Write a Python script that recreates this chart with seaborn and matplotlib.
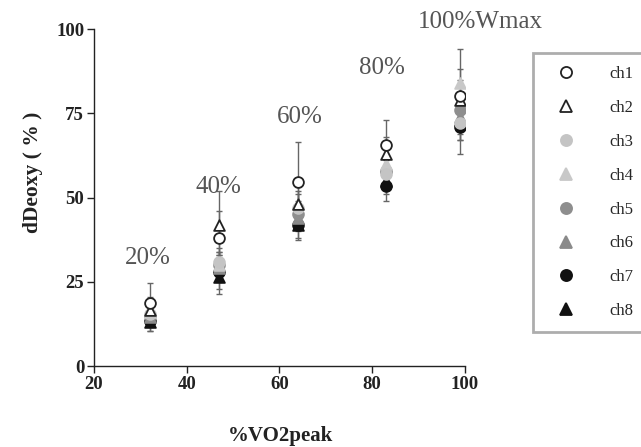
import matplotlib
matplotlib.use("Agg")
import matplotlib.pyplot as plt
import seaborn as sns
import pandas as pd
from matplotlib.lines import Line2D

# ---- data ----
x_vals = [32, 47, 64, 83, 99]
channels = ["ch1", "ch2", "ch3", "ch4", "ch5", "ch6", "ch7", "ch8"]
ch1 = [18.7, 38.0, 54.5, 65.5, 80.0]
ch2 = [16.5, 42.0, 48.0, 63.0, 79.0]
ch3 = [15.5, 31.0, 47.0, 57.0, 72.0]
ch4 = [16.0, 30.0, 48.0, 60.0, 84.0]
ch5 = [15.0, 30.0, 45.0, 58.0, 76.0]
ch6 = [14.5, 29.0, 44.0, 59.0, 74.0]
ch7 = [13.5, 28.0, 42.0, 53.5, 71.0]
ch8 = [13.0, 26.5, 42.0, 55.0, 73.0]
ch1_err = [6.0, 8.0, 12.0, 7.5, 8.0]
ch2_err = [4.0, 10.0, 5.0, 5.0, 6.0]
ch3_err = [3.0, 4.0, 4.0, 4.0, 5.0]
ch4_err = [3.0, 4.0, 4.0, 4.0, 10.0]
ch5_err = [3.0, 4.0, 4.0, 4.0, 5.0]
ch6_err = [3.0, 4.0, 4.0, 4.0, 5.0]
ch7_err = [3.0, 5.0, 4.5, 4.5, 8.0]
ch8_err = [2.5, 5.0, 4.0, 4.0, 6.0]
stage_labels = ["20%", "40%", "60%", "80%", "100%Wmax"]
stage_label_x = [31.6, 46.9, 64.4, 82.0, 103.4]
stage_label_y = [32.0, 53.0, 74.0, 88.4, 102.0]
x_ticks = [20, 40, 60, 80, 100]
y_ticks = [0, 25, 50, 75, 100]

values = [ch1, ch2, ch3, ch4, ch5, ch6, ch7, ch8]
errors = [ch1_err, ch2_err, ch3_err, ch4_err, ch5_err, ch6_err, ch7_err, ch8_err]

styles = {
    "ch1": dict(marker="o", face="white", edge="#222222"),
    "ch2": dict(marker="^", face="white", edge="#222222"),
    "ch3": dict(marker="o", face="#c4c4c4", edge="#c4c4c4"),
    "ch4": dict(marker="^", face="#c8c8c8", edge="#c8c8c8"),
    "ch5": dict(marker="o", face="#8e8e8e", edge="#8e8e8e"),
    "ch6": dict(marker="^", face="#8a8a8a", edge="#8a8a8a"),
    "ch7": dict(marker="o", face="#111111", edge="#111111"),
    "ch8": dict(marker="^", face="#111111", edge="#111111"),
}

rows = []
for ch, v, e in zip(channels, values, errors):
    for xi, yi, ei in zip(x_vals, v, e):
        rows.append(dict(channel=ch, x=xi, y=yi, err=ei))
df = pd.DataFrame(rows)

sns.set_style("white")
plt.rcParams["font.family"] = ["Liberation Serif", "DejaVu Serif"]

fig = plt.figure(figsize=(6.41, 4.47), dpi=100)
ax = fig.add_axes([0.1466, 0.181, 0.5788, 0.754])

# error bars
for ch in channels[::-1]:
    d = df[df.channel == ch]
    ax.errorbar(d.x, d.y, yerr=d.err, fmt="none", ecolor="#666666",
                elinewidth=1.0, capsize=2, capthick=1.0, zorder=1)

# markers (ch1 on top)
for i, ch in enumerate(channels[::-1]):
    d = df[df.channel == ch]
    st = styles[ch]
    sns.scatterplot(data=d, x="x", y="y", ax=ax, marker=st["marker"], s=60,
                    facecolor=st["face"], edgecolor=st["edge"], linewidth=1.3,
                    zorder=2 + i, legend=False)

for lab, lx, ly in zip(stage_labels, stage_label_x, stage_label_y):
    ax.text(lx, ly, lab, ha="center", va="center", fontsize=18,
            color="#555555", clip_on=False)

ax.set_xlim(20, 100)
ax.set_ylim(0, 100)
ax.set_xticks(x_ticks)
ax.set_yticks(y_ticks)
ax.tick_params(axis="both", direction="out", length=5, width=1, labelsize=13.5,
               colors="#222222", bottom=True, left=True, pad=2)
for lbl in ax.get_xticklabels() + ax.get_yticklabels():
    lbl.set_fontweight("bold")
for sp in ["top", "right"]:
    ax.spines[sp].set_visible(False)
for sp in ["left", "bottom"]:
    ax.spines[sp].set_color("#222222")
    ax.spines[sp].set_linewidth(1.0)

ax.set_xlabel("")
ax.set_ylabel("")
fig.text(280 / 641, 1 - 436 / 447, "%VO2peak", fontsize=15, fontweight="bold",
         ha="center", va="center", color="#222222")
fig.text(33 / 641, 1 - 172 / 447, "dDeoxy ( % )", fontsize=15.5, fontweight="bold",
         ha="center", va="center", rotation=90, color="#222222")

handles = []
for ch in channels:
    st = styles[ch]
    handles.append(Line2D([], [], linestyle="none", marker=st["marker"],
                          markersize=8, markerfacecolor=st["face"],
                          markeredgecolor=st["edge"], markeredgewidth=1.3))
leg = fig.legend(handles, channels, loc="upper left",
                 bbox_to_anchor=(533 / 641, 1 - 53 / 447), fontsize=12,
                 frameon=True, fancybox=False, edgecolor="#999999",
                 labelspacing=1.07, handlelength=2.4, handletextpad=1.38,
                 borderpad=0.8, borderaxespad=0)
leg.get_frame().set_linewidth(2.0)

fig.savefig("out.png", dpi=100)
